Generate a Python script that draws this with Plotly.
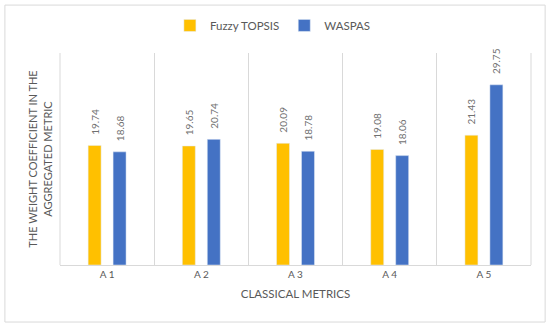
import plotly.graph_objects as go

categories = ["A 1", "A 2", "A 3", "A 4", "A 5"]
fuzzy_topsis = [19.74, 19.65, 20.09, 19.08, 21.43]
waspas = [18.68, 20.74, 18.78, 18.06, 29.75]

font_family = "Lato, Open Sans, sans-serif"
gray_text = "#595959"
label_gray = "#707070"
pad = "\u00a0\u00a0\u00a0"

fig = go.Figure()
fig.add_trace(go.Bar(
    x=categories, y=fuzzy_topsis, name="Fuzzy TOPSIS",
    marker_color="#FFC000",
    text=[pad + f"{v:.2f}" for v in fuzzy_topsis], textposition="outside",
    textangle=-90, textfont=dict(size=10, color=label_gray, family=font_family),
    cliponaxis=False,
))
fig.add_trace(go.Bar(
    x=categories, y=waspas, name="WASPAS",
    marker_color="#4472C4",
    text=[pad + f"{v:.2f}" for v in waspas], textposition="outside",
    textangle=-90, textfont=dict(size=10, color=label_gray, family=font_family),
    cliponaxis=False,
))

fig.update_layout(
    width=550, height=333,
    margin=dict(l=60, r=19, t=53, b=68, autoexpand=False),
    paper_bgcolor="white", plot_bgcolor="white",
    barmode="group", bargap=0.47, bargroupgap=0.48,
    font=dict(family=font_family, color=gray_text),
    uniformtext=dict(minsize=10, mode="show"),
    legend=dict(orientation="h", x=0.452, xanchor="center", y=1.13, yanchor="middle",
                bgcolor="rgba(0,0,0,0)",
                font=dict(size=11.5, color=gray_text),
                itemwidth=30, traceorder="normal"),
    xaxis=dict(
        automargin=False,
        tickson="boundaries", showgrid=True, gridcolor="#D9D9D9", gridwidth=1,
        showline=True, linecolor="#D9D9D9", ticks="",
        tickfont=dict(size=10, color=gray_text),
        title=dict(text="CLASSICAL METRICS", font=dict(size=11.5, color=gray_text), standoff=10),
    ),
    yaxis=dict(
        automargin=False,
        range=[0, 35], showgrid=False, showticklabels=False, zeroline=False,
        showline=False, ticks="",
        title=dict(text="THE WEIGHT COEFFICIENT IN THE<br>AGGREGATED METRIC",
                   font=dict(size=11, color=gray_text), standoff=4),
    ),
    shapes=[
        dict(type="rect", xref="paper", yref="paper", x0=-0.117, x1=1.03, y0=-0.269, y1=1.226,
             line=dict(color="#D9D9D9", width=1), layer="below"),
        dict(type="line", xref="paper", yref="paper", x0=0, x1=0, y0=0, y1=1,
             line=dict(color="#D9D9D9", width=1), layer="below"),
        dict(type="line", xref="paper", yref="paper", x0=1, x1=1, y0=0, y1=1,
             line=dict(color="#D9D9D9", width=1), layer="below"),
    ],
)

fig.write_html("out.html", config={"displayModeBar": False},
               post_script="document.body.style.margin='0';")
